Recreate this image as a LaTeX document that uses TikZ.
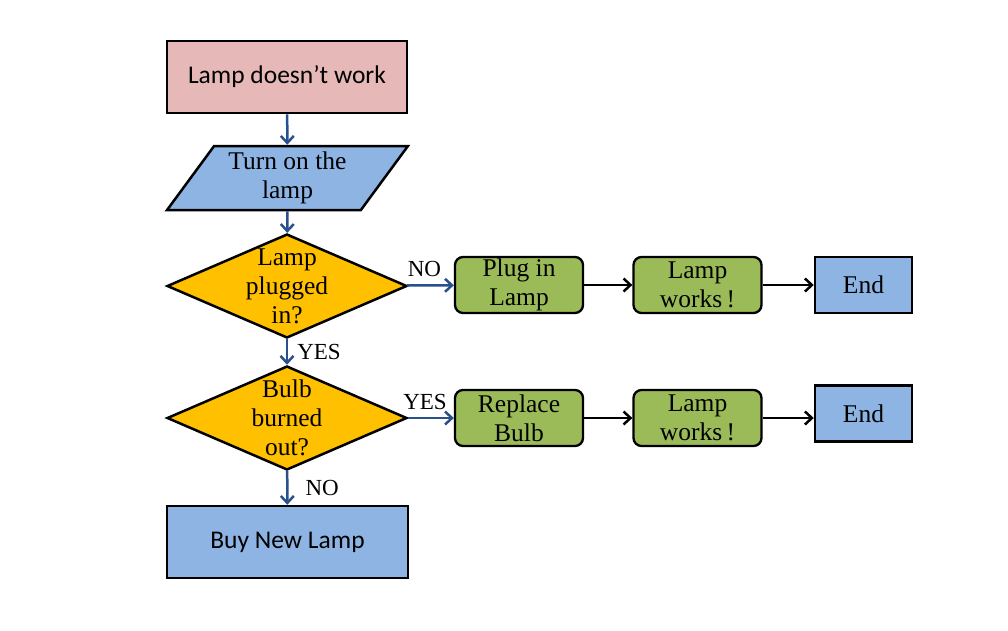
\documentclass[tikz,border=0pt]{standalone}
\usepackage{fontspec}
\setmainfont{Liberation Serif}
\newfontfamily\boxfont{Carlito}
\usepackage{tikz}
\usetikzlibrary{shapes.geometric,arrows.meta}
\definecolor{lamppink}{HTML}{E6B9B8}
\definecolor{lampblue}{HTML}{8EB4E3}
\definecolor{lampyellow}{HTML}{FFC000}
\definecolor{lampgreen}{HTML}{9BBB59}
\definecolor{flowblue}{RGB}{40,80,140}

\begin{document}
\begin{tikzpicture}[x=1pt, y=-1pt,
    every node/.style={font=\fontsize{25.5}{29}\selectfont, align=center, inner sep=0pt},
    boxnode/.style={draw=black, line width=2.5pt, rectangle},
    greenbox/.style={draw=black, line width=2.3pt, rectangle, rounded corners=8pt,
      fill=lampgreen, minimum width=128pt, minimum height=56pt},
    endbox/.style={boxnode, fill=lampblue, minimum width=97pt, minimum height=56pt},
    decision/.style={draw=black, line width=2.5pt, diamond, fill=lampyellow,
      minimum width=240pt, minimum height=104pt},
    blueflow/.style={draw=flowblue, line width=2.5pt, -{Straight Barb[length=7pt,width=13pt]}},
    blackflow/.style={draw=black, line width=2.5pt, -{Straight Barb[length=7pt,width=13pt]}},
    answer/.style={font=\fontsize{23}{26}\selectfont}]
    \useasboundingbox (0,0) rectangle (1008,630);

    % main column
    \node (start) at (287,77) [boxnode, fill=lamppink, minimum width=240pt, minimum height=72pt]
      {\boxfont\fontsize{25.5}{28}\selectfont Lamp doesn’t work};
    \node (turnon) at (287.5,178) [draw=black, line width=2.5pt, trapezium, trapezium stretches=true,
      trapezium left angle=54, trapezium right angle=126, fill=lampblue,
      minimum width=241pt, minimum height=64pt] {Turn on the\\lamp};
    \node (plugged) at (287,286) [decision] {};
    \node (pluggedtext) at (plugged.center) {Lamp\\plugged\\in?};
    \node (bulb) at (287,418) [decision] {};
    \node (bulbtext) at (bulb.center) {Bulb\\burned\\out?};
    \node (buynew) at (287.5,542) [boxnode, fill=lampblue, minimum width=241pt, minimum height=72pt]
      {\boxfont\fontsize{25.5}{28}\selectfont Buy New Lamp};

    % first row
    \node (plugin) at (519,285) [greenbox] {Plug in\\Lamp};
    \node (works1) at (697.5,285) [greenbox] {Lamp\\works\,!};
    \node (end1) at (863.5,285) [endbox] {End};

    % second row
    \node (replace) at (519,418) [greenbox] {Replace\\Bulb};
    \node (works2) at (697.5,418) [greenbox] {Lamp\\works\,!};
    \node (end2) at (863.5,413.5) [endbox] {End};

    \draw [blueflow] (start) -- (turnon);
    \draw [blueflow] (turnon) -- (plugged);
    \draw [blueflow] (plugged) -- node[answer, right, xshift=9pt] {YES} (bulb);
    \draw [blueflow] (bulb) -- node[answer, right, xshift=17pt] {NO} (buynew);
    \draw [blueflow] (plugged) -- node[answer, above, xshift=-6pt, yshift=7pt] {NO} (plugin);
    \draw [blueflow] (bulb) -- node[answer, above, xshift=-6pt, yshift=7pt] {YES} (replace);

    \draw [blackflow] (plugin) -- (works1);
    \draw [blackflow] (works1) -- (end1);
    \draw [blackflow] (replace) -- (works2);
    \draw [blackflow] (works2.east) -- (works2.east -| end2.west);
  \end{tikzpicture}
\end{document}
